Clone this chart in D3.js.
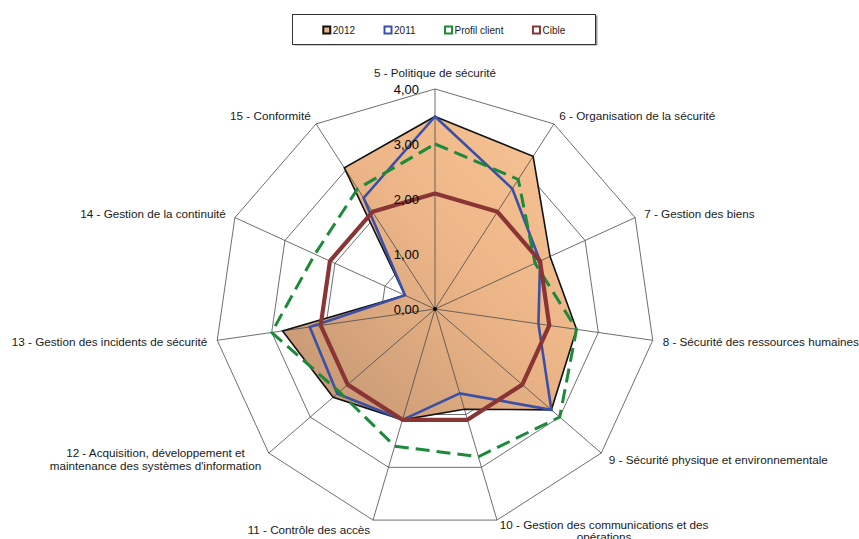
<!DOCTYPE html>
<html>
<head>
<meta charset="utf-8">
<script src="https://cdn.jsdelivr.net/npm/d3@7"></script>
<style>
  body { margin: 0; background: #fff; }
  text { font-family: "Liberation Sans", Arial, sans-serif; fill: #1a1a1a; }
</style>
</head>
<body>
<div id="chart"></div>
<script>
// axis categories (clockwise from top)
var categories = [
  "5 - Politique de sécurité",
  "6 - Organisation de la sécurité",
  "7 - Gestion des biens",
  "8 - Sécurité des ressources humaines",
  "9 - Sécurité physique et environnementale",
  "10 - Gestion des communications et des\nopérations",
  "11 - Contrôle des accès",
  "12 - Acquisition, développement et\nmaintenance des systèmes d'information",
  "13 - Gestion des incidents de sécurité",
  "14 - Gestion de la continuité",
  "15 - Conformité"
];

// series values
var values2012   = [3.5, 3.3, 2.3, 2.6, 2.8, 1.9, 2.1, 2.45, 2.8, 0.6, 3.05];
var values2011   = [3.5, 2.6, 2.1, 1.9, 2.8, 1.6, 2.1, 2.35, 2.3, 0.6, 2.4];
var valuesProfil = [3.0, 2.8, 2.0, 2.6, 3.0, 2.8, 2.6, 2.3, 3.0, 2.4, 2.6];
var valuesCible  = [2.1, 2.1, 2.1, 2.1, 2.1, 2.1, 2.1, 2.1, 2.1, 2.1, 2.1];

var tickValues = [0, 1, 2, 3, 4];
var legendNames = ["2012", "2011", "Profil client", "Cible"];

var width = 859;
var height = 539;
var cx = 435, cy = 309, R = 220;
var n = categories.length;

var svg = d3.select('#chart')
  .append('svg')
  .attr('width', width)
  .attr('height', height);

var r = d3.scaleLinear().domain([0, 4]).range([0, R]);
var angle = function(i) { return i * 2 * Math.PI / n; };

var defs = svg.append('defs');
var grad = defs.append('linearGradient')
  .attr('id', 'fill2012')
  .attr('x1', '1').attr('y1', '0')
  .attr('x2', '0').attr('y2', '1');
grad.append('stop').attr('offset', '0%').attr('stop-color', '#f9c595');
grad.append('stop').attr('offset', '45%').attr('stop-color', '#ecb587');
grad.append('stop').attr('offset', '100%').attr('stop-color', '#bf9371');

var g = svg.append('g').attr('transform', 'translate(' + cx + ',' + cy + ')');

var radial = d3.lineRadial()
  .angle(function(d, i) { return angle(i); })
  .radius(function(d) { return r(d); })
  .curve(d3.curveLinearClosed);

// rings
g.selectAll('.ring')
  .data(tickValues.slice(1))
  .enter().append('path')
  .attr('class', 'ring')
  .attr('d', function(t) { return radial(categories.map(function() { return t; })); })
  .style('fill', 'none')
  .style('stroke', '#4a4a4a')
  .style('stroke-width', 0.8);

// 2012 area
g.append('path')
  .attr('d', radial(values2012))
  .style('fill', 'url(#fill2012)')
  .style('stroke', 'none');

// spokes
g.selectAll('.spoke')
  .data(categories)
  .enter().append('line')
  .attr('class', 'spoke')
  .attr('x1', 0).attr('y1', 0)
  .attr('x2', function(d, i) { return r(4) * Math.sin(angle(i)); })
  .attr('y2', function(d, i) { return -r(4) * Math.cos(angle(i)); })
  .style('stroke', '#4a4a4a')
  .style('stroke-width', 0.8);

g.append('path')
  .attr('d', radial(values2012))
  .style('fill', 'none')
  .style('stroke', '#111')
  .style('stroke-width', 1.6)
  .style('stroke-linejoin', 'miter');

g.append('path')
  .attr('d', radial(values2011))
  .style('fill', 'none')
  .style('stroke', '#3a50a6')
  .style('stroke-width', 2.6);

g.append('path')
  .attr('d', radial(valuesProfil))
  .style('fill', 'none')
  .style('stroke', '#1c8a3a')
  .style('stroke-width', 3)
  .style('stroke-dasharray', '14,7');

g.append('path')
  .attr('d', radial(valuesCible))
  .style('fill', 'none')
  .style('stroke', '#8a3535')
  .style('stroke-width', 4.2)
  .style('stroke-linejoin', 'round');

g.append('circle').attr('r', 2).style('fill', '#000');

// value tick labels
g.selectAll('.tick')
  .data(tickValues)
  .enter().append('text')
  .attr('class', 'tick')
  .attr('x', -16)
  .attr('y', function(d) { return -r(d); })
  .attr('dy', '0.35em')
  .style('text-anchor', 'end')
  .style('font-size', '13px')
  .style('fill', '#000')
  .text(function(d) { return d.toFixed(2).replace('.', ','); });

// category labels
var fs = 11.7, lh = 13.5;
categories.forEach(function(c, i) {
  var dx = Math.sin(angle(i)), dy = -Math.cos(angle(i));
  var px = r(4) * dx + dx * 10;
  var py = -r(4) * Math.cos(angle(i)) + dy * 10;
  var lines = c.split('\n');
  var t = g.append('text').style('font-size', fs + 'px');
  var spans = lines.map(function(l) { return t.append('tspan').text(l); });
  var w = d3.max(spans, function(s) { return s.node().getComputedTextLength(); });
  var midX;
  if (Math.abs(dx) < 0.1) midX = px;
  else if (dx > 0) midX = px + w / 2;
  else midX = px - w / 2;
  var firstY, step = lh;
  if (dy < -0.9) { firstY = py - 6 - (lines.length - 1) * lh; }
  else if (dy > 0.9) {
    firstY = lines.length > 1 ? py - 5 : py;
    step = 12;
  }
  else { firstY = py - (lines.length - 1) * lh / 2; }
  spans.forEach(function(s, k) {
    s.attr('x', midX).attr('y', firstY + k * step).attr('dy', '0.35em');
  });
  t.style('text-anchor', 'middle');
});

// legend
var legendColors = ['#111', '#3a50a6', '#1c8a3a', '#8a3535'];
var legendFills = ['#eab285', '#fff', '#fff', '#fff'];
svg.append('rect')
  .attr('x', 294.5).attr('y', 15.5).attr('width', 303).attr('height', 30)
  .style('fill', '#999');
svg.append('rect')
  .attr('x', 292.5).attr('y', 14.5).attr('width', 303).attr('height', 30)
  .style('fill', '#fff').style('stroke', '#333').style('stroke-width', 1);

var leg = svg.append('g');
var lx = 0;
legendNames.forEach(function(name, i) {
  var item = leg.append('g').attr('transform', 'translate(' + lx + ',0)');
  item.append('rect')
    .attr('x', 0.5).attr('y', -3.5).attr('width', 7).attr('height', 7)
    .style('fill', legendFills[i])
    .style('stroke', legendColors[i])
    .style('stroke-width', 2);
  var tx = item.append('text')
    .attr('x', 10).attr('y', 0).attr('dy', '0.35em')
    .style('font-size', '10px')
    .text(name);
  lx += 10 + tx.node().getComputedTextLength() + 29;
});
var lw = lx - 29;
leg.attr('transform', 'translate(' + (444 - lw / 2) + ',30)');
</script>
</body>
</html>
